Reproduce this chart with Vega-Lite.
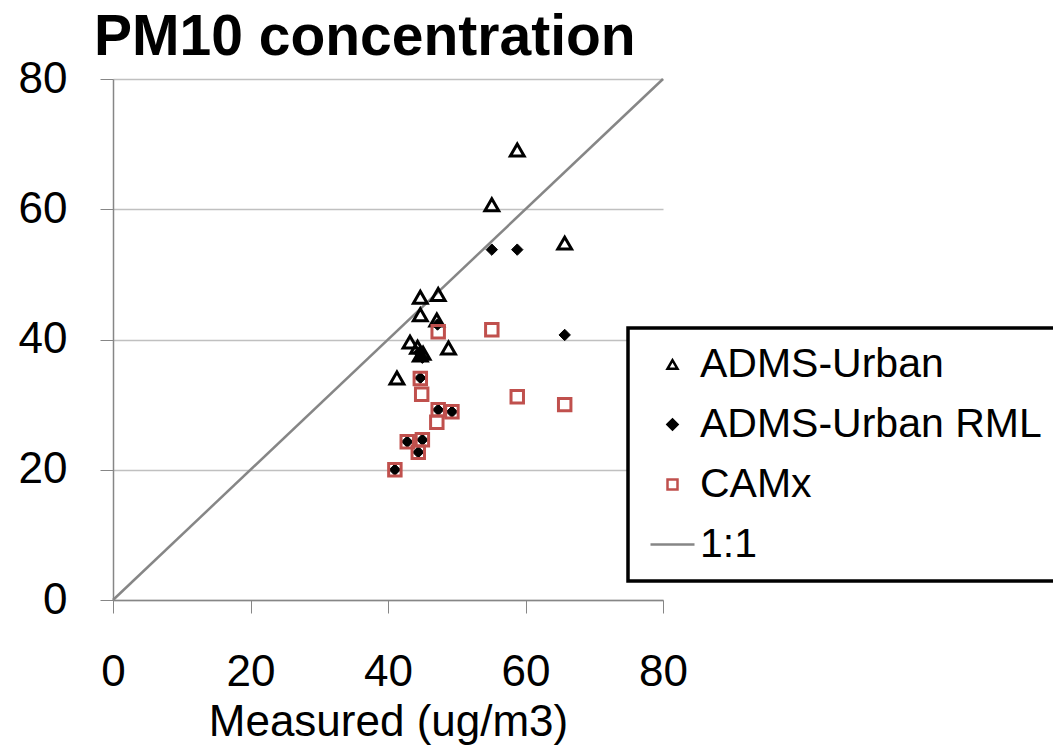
{
  "$schema": "https://vega.github.io/schema/vega-lite/v6.json",
  "width": 550,
  "height": 521,
  "autosize": {"type": "none"},
  "padding": {"left": 113, "top": 79, "right": 390, "bottom": 148},
  "background": "white",
  "title": {
    "text": "PM10 concentration",
    "anchor": "start",
    "frame": "group",
    "font": "Liberation Sans",
    "fontSize": 57,
    "fontWeight": "bold",
    "color": "black",
    "baseline": "alphabetic",
    "offset": 7,
    "dx": -19,
    "dy": 62
  },
  "config": {
    "view": {"stroke": null},
    "font": "Liberation Sans",
    "legend": {"strokeWidth": 3.5}
  },
  "datasets": {
    "points": [
      {"series": "ADMS-Urban", "measured": 58.8, "modelled": 69.1},
      {"series": "ADMS-Urban", "measured": 55.1, "modelled": 60.7},
      {"series": "ADMS-Urban", "measured": 65.7, "modelled": 54.8},
      {"series": "ADMS-Urban", "measured": 44.7, "modelled": 46.5},
      {"series": "ADMS-Urban", "measured": 47.3, "modelled": 46.9},
      {"series": "ADMS-Urban", "measured": 44.7, "modelled": 43.8},
      {"series": "ADMS-Urban", "measured": 47.1, "modelled": 43.0},
      {"series": "ADMS-Urban", "measured": 43.2, "modelled": 39.6},
      {"series": "ADMS-Urban", "measured": 48.8, "modelled": 38.7},
      {"series": "ADMS-Urban", "measured": 44.3, "modelled": 38.8},
      {"series": "ADMS-Urban", "measured": 44.7, "modelled": 37.6},
      {"series": "ADMS-Urban", "measured": 45.1, "modelled": 37.9},
      {"series": "ADMS-Urban", "measured": 41.3, "modelled": 34.1},
      {"series": "ADMS-Urban RML", "measured": 55.1, "modelled": 53.8},
      {"series": "ADMS-Urban RML", "measured": 58.8, "modelled": 53.8},
      {"series": "ADMS-Urban RML", "measured": 65.7, "modelled": 40.7},
      {"series": "ADMS-Urban RML", "measured": 47.2, "modelled": 42.3},
      {"series": "ADMS-Urban RML", "measured": 44.5, "modelled": 38.0},
      {"series": "ADMS-Urban RML", "measured": 45.0, "modelled": 37.2},
      {"series": "ADMS-Urban RML", "measured": 44.7, "modelled": 34.1},
      {"series": "ADMS-Urban RML", "measured": 47.3, "modelled": 29.2},
      {"series": "ADMS-Urban RML", "measured": 49.3, "modelled": 28.9},
      {"series": "ADMS-Urban RML", "measured": 42.8, "modelled": 24.3},
      {"series": "ADMS-Urban RML", "measured": 45.0, "modelled": 24.6},
      {"series": "ADMS-Urban RML", "measured": 44.4, "modelled": 22.7},
      {"series": "ADMS-Urban RML", "measured": 41.0, "modelled": 20.0},
      {"series": "CAMx", "measured": 55.1, "modelled": 41.5},
      {"series": "CAMx", "measured": 58.8, "modelled": 31.2},
      {"series": "CAMx", "measured": 65.7, "modelled": 30.0},
      {"series": "CAMx", "measured": 47.3, "modelled": 41.2},
      {"series": "CAMx", "measured": 44.7, "modelled": 34.0},
      {"series": "CAMx", "measured": 44.9, "modelled": 31.6},
      {"series": "CAMx", "measured": 47.3, "modelled": 29.2},
      {"series": "CAMx", "measured": 49.3, "modelled": 28.9},
      {"series": "CAMx", "measured": 47.1, "modelled": 27.3},
      {"series": "CAMx", "measured": 42.8, "modelled": 24.3},
      {"series": "CAMx", "measured": 45.0, "modelled": 24.6},
      {"series": "CAMx", "measured": 44.4, "modelled": 22.7},
      {"series": "CAMx", "measured": 41.0, "modelled": 20.0}
    ],
    "oneone": [
      {"measured": 0, "modelled": 0},
      {"measured": 80, "modelled": 80}
    ]
  },
  "layer": [
    {
      "data": {"name": "oneone"},
      "mark": {"type": "line", "color": "#868686", "strokeWidth": 2.5},
      "encoding": {
        "x": {"field": "measured", "type": "quantitative", "scale": {"domain": [0, 80], "nice": false}},
        "y": {"field": "modelled", "type": "quantitative", "scale": {"domain": [0, 80], "nice": false}}
      }
    },
    {
      "data": {"name": "points"},
      "mark": {"type": "point", "filled": true, "opacity": 1},
      "encoding": {
        "x": {
          "field": "measured", "type": "quantitative",
          "scale": {"domain": [0, 80], "nice": false},
          "axis": {
            "title": "Measured (ug/m3)",
            "values": [0, 20, 40, 60, 80],
            "grid": false,
            "domainColor": "#868686",
            "domainWidth": 1.5,
            "tickColor": "#868686",
            "tickSize": 13,
            "labelFont": "Liberation Sans",
            "labelFontSize": 44,
            "labelColor": "black",
            "labelPadding": 37,
            "labelFlush": false,
            "titleFont": "Liberation Sans",
            "titleFontSize": 44,
            "titleFontWeight": "normal",
            "titleColor": "black",
            "titlePadding": 6
          }
        },
        "y": {
          "field": "modelled", "type": "quantitative",
          "scale": {"domain": [0, 80], "nice": false},
          "axis": {
            "title": null,
            "values": [0, 20, 40, 60, 80],
            "grid": true,
            "gridColor": "#C0C0C0",
            "gridWidth": 1.5,
            "domainColor": "#868686",
            "domainWidth": 1.5,
            "tickColor": "#868686",
            "tickSize": 13,
            "labelFont": "Liberation Sans",
            "labelFontSize": 44,
            "labelColor": "black",
            "labelPadding": 33,
            "labelFlush": false
          }
        },
        "size": {
          "condition": [
            {"test": "datum.series === 'ADMS-Urban RML'", "value": 130},
            {"test": "datum.series === 'ADMS-Urban'", "value": 190}
          ],
          "value": 155
        },
        "strokeWidth": {
          "condition": {"test": "datum.series === 'ADMS-Urban RML'", "value": 1},
          "value": 3
        },
        "shape": {
          "field": "series", "type": "nominal",
          "scale": {
            "domain": ["ADMS-Urban", "ADMS-Urban RML", "CAMx", "1:1"],
            "range": ["triangle-up", "diamond", "square", "M-4.4,0H4.4"]
          },
          "legend": {
            "orient": "none",
            "legendX": 515,
            "legendY": 249,
            "title": null,
            "labelFont": "Liberation Sans",
            "labelFontSize": 41,
            "labelColor": "black",
            "labelLimit": 0,
            "strokeColor": "black",
            "fillColor": "white",
            "padding": 16,
            "rowPadding": 18,
            "symbolSize": 100,
            "symbolStrokeWidth": 2.5,
            "symbolOffset": 8,
            "labelOffset": 7,
            "encode": {
              "legend": {"update": {"strokeWidth": {"value": 3.5}, "stroke": {"value": "black"}}}
            }
          }
        },
        "fill": {
          "field": "series", "type": "nominal",
          "scale": {
            "domain": ["ADMS-Urban", "ADMS-Urban RML", "CAMx", "1:1"],
            "range": ["transparent", "black", "transparent", "transparent"]
          }
        },
        "stroke": {
          "field": "series", "type": "nominal",
          "scale": {
            "domain": ["ADMS-Urban", "ADMS-Urban RML", "CAMx", "1:1"],
            "range": ["black", "black", "#C0504D", "#868686"]
          }
        }
      }
    }
  ]
}
